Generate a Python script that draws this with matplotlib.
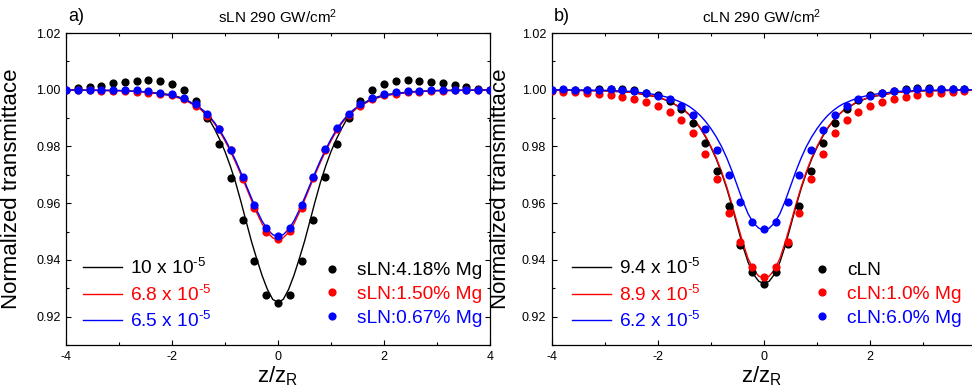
#!/usr/bin/env python3
"""
Open aperture z-scan traces at 290 GW/cm^2 for stoichiometric (sLN) and
congruent (cLN) lithium niobate with several Mg doping levels, with the
fitted curves and their two-photon absorption coefficients.
"""

import matplotlib

matplotlib.use("Agg")
import matplotlib.pyplot as plt
from matplotlib.ticker import FormatStrFormatter, MultipleLocator

# z/zR positions of the measured points
Z_POINTS = [
    -4.000, -3.778, -3.556, -3.333, -3.111, -2.889, -2.667, -2.444, -2.222,
    -2.000, -1.778, -1.556, -1.333, -1.111, -0.889, -0.667, -0.444, -0.222,
    0.000,
    0.222, 0.444, 0.667, 0.889, 1.111, 1.333, 1.556, 1.778, 2.000,
    2.222, 2.444, 2.667, 2.889, 3.111, 3.333, 3.556, 3.778, 4.000,
]

# panel a) measured transmittance
SLN_418 = [
    1.0000, 1.0006, 1.0008, 1.0014, 1.0024, 1.0028, 1.0031, 1.0033, 1.0031,
    1.0021, 1.0000, 0.9962, 0.9899, 0.9809, 0.9689, 0.9541, 0.9396, 0.9278,
    0.9247,
    0.9278, 0.9396, 0.9541, 0.9691, 0.9809, 0.9899, 0.9962, 1.0000, 1.0021,
    1.0032, 1.0033, 1.0031, 1.0027, 1.0024, 1.0015, 1.0008, 1.0002, 1.0000,
]
SLN_150 = [
    1.0000, 0.9998, 0.9998, 0.9997, 0.9995, 0.9994, 0.9993, 0.9989, 0.9985,
    0.9980, 0.9967, 0.9943, 0.9909, 0.9860, 0.9786, 0.9686, 0.9582, 0.9500,
    0.9474,
    0.9502, 0.9583, 0.9688, 0.9787, 0.9860, 0.9911, 0.9943, 0.9966, 0.9980,
    0.9986, 0.9991, 0.9993, 0.9995, 0.9997, 0.9998, 0.9999, 1.0000, 1.0000,
]
SLN_067 = [
    1.0000, 1.0000, 1.0000, 0.9999, 0.9999, 0.9998, 0.9998, 0.9994, 0.9990,
    0.9985, 0.9970, 0.9948, 0.9915, 0.9863, 0.9788, 0.9691, 0.9594, 0.9512,
    0.9485,
    0.9512, 0.9595, 0.9692, 0.9790, 0.9864, 0.9915, 0.9948, 0.9970, 0.9984,
    0.9991, 0.9995, 0.9997, 0.9998, 0.9999, 1.0000, 1.0000, 1.0000, 1.0000,
]

# panel b) measured transmittance
CLN_00 = [
    1.0000, 1.0000, 1.0000, 1.0000, 1.0002, 1.0003, 1.0002, 0.9998, 0.9990,
    0.9980, 0.9962, 0.9931, 0.9884, 0.9812, 0.9712, 0.9590, 0.9453, 0.9358,
    0.9315,
    0.9358, 0.9455, 0.9590, 0.9712, 0.9812, 0.9884, 0.9932, 0.9964, 0.9980,
    0.9990, 0.9997, 1.0002, 1.0005, 1.0005, 1.0004, 1.0002, 1.0001, 1.0000,
]
CLN_10 = [
    0.9994, 0.9992, 0.9991, 0.9988, 0.9985, 0.9980, 0.9975, 0.9969, 0.9955,
    0.9943, 0.9922, 0.9892, 0.9847, 0.9774, 0.9685, 0.9565, 0.9462, 0.9374,
    0.9338,
    0.9374, 0.9462, 0.9565, 0.9685, 0.9774, 0.9847, 0.9892, 0.9922, 0.9943,
    0.9955, 0.9968, 0.9976, 0.9981, 0.9988, 0.9990, 0.9993, 0.9995, 0.9996,
]
CLN_60 = [
    1.0000, 1.0002, 1.0000, 1.0000, 1.0000, 1.0002, 1.0000, 0.9995, 0.9987,
    0.9979, 0.9966, 0.9943, 0.9910, 0.9860, 0.9787, 0.9699, 0.9605, 0.9533,
    0.9508,
    0.9533, 0.9605, 0.9698, 0.9786, 0.9859, 0.9910, 0.9943, 0.9966, 0.9979,
    0.9987, 0.9995, 1.0000, 1.0002, 1.0002, 1.0002, 1.0002, 1.0002, 1.0002,
]

# fitted curves, read at z >= 0 (the fits are symmetric about z = 0)
LINE_Z = [0.0, 0.1, 0.2, 0.3, 0.4, 0.5, 0.6, 0.7, 0.8, 0.9, 1.0, 1.1, 1.2,
          1.3, 1.4, 1.5, 1.75, 2.0, 2.5, 3.0, 4.0]
SLN_FIT_100 = [0.9250, 0.9261, 0.9296, 0.9345, 0.9403, 0.9465, 0.9535, 0.9606,
               0.9673, 0.9731, 0.9782, 0.9825, 0.9863, 0.9896, 0.9920, 0.9939,
               0.9967, 0.9982, 0.9993, 0.9997, 0.9999]
SLN_FIT_68 = [0.9470, 0.9478, 0.9497, 0.9527, 0.9566, 0.9610, 0.9656, 0.9701,
              0.9744, 0.9784, 0.9820, 0.9853, 0.9881, 0.9904, 0.9923, 0.9937,
              0.9963, 0.9979, 0.9992, 0.9997, 0.9999]
SLN_FIT_65 = [0.9482, 0.9489, 0.9508, 0.9537, 0.9575, 0.9618, 0.9663, 0.9708,
              0.9751, 0.9790, 0.9826, 0.9858, 0.9885, 0.9908, 0.9926, 0.9940,
              0.9965, 0.9980, 0.9992, 0.9997, 0.9999]
CLN_FIT_94 = [0.9316, 0.9325, 0.9350, 0.9392, 0.9450, 0.9518, 0.9587, 0.9651,
              0.9707, 0.9756, 0.9797, 0.9833, 0.9864, 0.9889, 0.9910, 0.9927,
              0.9956, 0.9974, 0.9991, 0.9996, 0.9999]
CLN_FIT_89 = [0.9335, 0.9343, 0.9366, 0.9405, 0.9462, 0.9527, 0.9594, 0.9657,
              0.9712, 0.9760, 0.9800, 0.9836, 0.9866, 0.9891, 0.9911, 0.9928,
              0.9957, 0.9975, 0.9991, 0.9996, 0.9999]
CLN_FIT_62 = [0.9505, 0.9512, 0.9531, 0.9563, 0.9608, 0.9660, 0.9712, 0.9759,
              0.9800, 0.9834, 0.9863, 0.9888, 0.9909, 0.9926, 0.9940, 0.9951,
              0.9970, 0.9982, 0.9994, 0.9998, 1.0000]

SLN_POINT_LABELS = ["sLN:4.18% Mg", "sLN:1.50% Mg", "sLN:0.67% Mg"]
CLN_POINT_LABELS = ["cLN", "cLN:1.0% Mg", "cLN:6.0% Mg"]
SLN_FIT_LABELS = [r"10 x 10$^{\text{-}5}$", r"6.8 x 10$^{\text{-}5}$",
                  r"6.5 x 10$^{\text{-}5}$"]
CLN_FIT_LABELS = [r"9.4 x 10$^{\text{-}5}$", r"8.9 x 10$^{\text{-}5}$",
                  r"6.2 x 10$^{\text{-}5}$"]

COLORS = ["black", "#ff0000", "#0000ff"]

plt.rcParams.update({
    "font.family": ["Liberation Sans", "DejaVu Sans"],
    "mathtext.fontset": "custom",
    "mathtext.rm": "Liberation Sans",
    "mathtext.it": "Liberation Sans:italic",
    "mathtext.bf": "Liberation Sans:bold",
    "axes.unicode_minus": False,
    "axes.linewidth": 0.9,
})


def mirror(z_half, y_half):
    """Full symmetric curve from the z >= 0 half."""
    z = [-v for v in z_half[:0:-1]] + list(z_half)
    y = list(y_half[:0:-1]) + list(y_half)
    return z, y


def draw_panel(ax, tag, title, points, point_labels, fits, fit_labels,
               fit_anchor, point_anchor, ylabel_x, xmax):
    line_handles = []
    for y_half, color in zip(fits, COLORS):
        z, y = mirror(LINE_Z, y_half)
        (h,) = ax.plot(z, y, color=color, lw=1.0, zorder=2)
        line_handles.append(h)

    point_handles = []
    for t, color in zip(points, COLORS):
        (h,) = ax.plot(Z_POINTS, t, "o", color=color, ms=5.9, mew=0,
                       zorder=3)
        point_handles.append(h)

    ax.set_xlim(-4, xmax)
    ax.set_ylim(0.91, 1.02)
    ax.xaxis.set_major_locator(MultipleLocator(2))
    ax.xaxis.set_minor_locator(MultipleLocator(1))
    ax.yaxis.set_major_locator(MultipleLocator(0.02))
    ax.yaxis.set_minor_locator(MultipleLocator(0.01))
    ax.yaxis.set_major_formatter(FormatStrFormatter("%.2f"))
    ax.tick_params(which="both", direction="in", top=True, right=True,
                   labelsize=9, pad=4, width=0.8)
    ax.tick_params(which="major", length=3.8)
    ax.tick_params(which="minor", length=2.2)

    ax.set_xlabel(r"z/z$_\mathrm{R}$", fontsize=16, labelpad=1)
    ax.set_ylabel("Normalized transmittace", fontsize=16)
    ax.yaxis.set_label_coords(ylabel_x, 0.5)
    ax.set_title(title, fontsize=11, pad=7)
    ax.text(0.005, 1.025, tag, transform=ax.transAxes, fontsize=13,
            va="bottom", ha="left")

    leg1 = ax.legend(line_handles, fit_labels, loc="center left",
                     bbox_to_anchor=fit_anchor, frameon=False, fontsize=13.8,
                     handlelength=2.05, handletextpad=0.4, labelspacing=0.33,
                     borderpad=0, borderaxespad=0, labelcolor=COLORS)
    ax.add_artist(leg1)
    ax.legend(point_handles, point_labels, loc="center left",
              bbox_to_anchor=point_anchor, frameon=False, fontsize=13.8,
              handlelength=1.0, handletextpad=0.82, labelspacing=0.33,
              borderpad=0, borderaxespad=0, labelcolor=COLORS)


def main():
    fig = plt.figure(figsize=(9.72, 3.92), dpi=100)
    ax_a = fig.add_axes([0.0679, 0.1199, 0.4362, 0.7959])
    # panel b runs off the right edge of the picture, so it stops at z/zR = 3.92
    ax_b = fig.add_axes([0.5676, 0.1199, 0.4324, 0.7959])

    draw_panel(ax_a, "a)", r"sLN 290 GW/cm$^2$",
               [SLN_418, SLN_150, SLN_067], SLN_POINT_LABELS,
               [SLN_FIT_100, SLN_FIT_68, SLN_FIT_65], SLN_FIT_LABELS,
               (0.04, 0.162), (0.6045, 0.162), -0.104, 4.0)
    draw_panel(ax_b, "b)", r"cLN 290 GW/cm$^2$",
               [CLN_00, CLN_10, CLN_60], CLN_POINT_LABELS,
               [CLN_FIT_94, CLN_FIT_89, CLN_FIT_62], CLN_FIT_LABELS,
               (0.0474, 0.162), (0.620, 0.162), -0.097, 3.92)
    ax_b.spines["right"].set_visible(False)
    ax_b.tick_params(which="both", right=False)

    fig.savefig("out.png", dpi=100)
    plt.close(fig)


if __name__ == "__main__":
    main()
